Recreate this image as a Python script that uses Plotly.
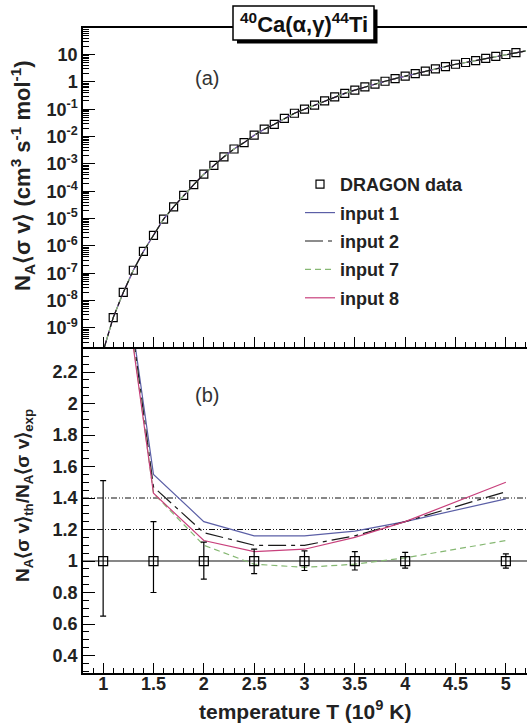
import plotly.graph_objects as go

# ---------------- data ----------------
# (a) DRAGON reaction rate (cm^3 s^-1 mol^-1) vs T9
T_rate = [1.1, 1.2, 1.3, 1.4, 1.5, 1.6, 1.7, 1.8, 1.9, 2.0,
          2.1, 2.2, 2.3, 2.4, 2.5, 2.6, 2.7, 2.8, 2.9, 3.0,
          3.1, 3.2, 3.3, 3.4, 3.5, 3.6, 3.7, 3.8, 3.9, 4.0,
          4.1, 4.2, 4.3, 4.4, 4.5, 4.6, 4.7, 4.8, 4.9, 5.0, 5.1]
rate_dragon = [2.4e-9, 2.0e-8, 1.29e-7, 6.3e-7, 2.45e-6, 9.5e-6, 2.7e-5, 7.1e-5, 1.74e-4, 4.2e-4,
               8.9e-4, 1.82e-3, 3.5e-3, 6.0e-3, 1.12e-2, 1.86e-2, 2.8e-2, 4.6e-2, 7.1e-2, 0.100,
               0.141, 0.200, 0.282, 0.380, 0.50, 0.65, 0.83, 1.05, 1.32, 1.62,
               2.0, 2.45, 3.0, 3.6, 4.4, 5.1, 6.0, 7.2, 8.5, 10.0, 11.7]

# (a) model curve (all inputs overlap on the log scale)
T_model = [0.9, 1.0, 1.1, 1.2, 1.3, 1.4, 1.5, 1.6, 1.7, 1.8, 1.9, 2.0,
           2.1, 2.2, 2.3, 2.4, 2.5, 2.6, 2.7, 2.8, 2.9, 3.0,
           3.1, 3.2, 3.3, 3.4, 3.5, 3.6, 3.7, 3.8, 3.9, 4.0,
           4.1, 4.2, 4.3, 4.4, 4.5, 4.6, 4.7, 4.8, 4.9, 5.0, 5.1, 5.2]
rate_model = [6.0e-12, 1.4e-10, 2.4e-9, 2.0e-8, 1.29e-7, 6.3e-7, 2.45e-6, 9.5e-6, 2.7e-5, 7.1e-5, 1.74e-4, 4.2e-4,
              8.9e-4, 1.82e-3, 3.5e-3, 6.0e-3, 1.12e-2, 1.86e-2, 2.8e-2, 4.6e-2, 7.1e-2, 0.100,
              0.141, 0.200, 0.282, 0.380, 0.50, 0.65, 0.83, 1.05, 1.32, 1.62,
              2.0, 2.45, 3.0, 3.6, 4.4, 5.1, 6.0, 7.2, 8.5, 10.0, 11.7, 13.5]

# (b) ratio theory / experiment
T_ratio = [1.0, 1.5, 2.0, 2.5, 3.0, 3.5, 4.0, 5.0]
ratio_exp = [1.0, 1.0, 1.0, 1.0, 1.0, 1.0, 1.0, 1.0]
err_up = [0.51, 0.25, 0.12, 0.076, 0.065, 0.06, 0.055, 0.045]
err_dn = [0.35, 0.20, 0.115, 0.08, 0.06, 0.057, 0.045, 0.045]

T_input = [1.0, 1.5, 2.0, 2.5, 3.0, 3.5, 4.0, 5.0]
ratio_input1 = [3.80, 1.55, 1.25, 1.16, 1.16, 1.19, 1.25, 1.395]
ratio_input2 = [3.85, 1.47, 1.18, 1.10, 1.10, 1.16, 1.25, 1.44]
ratio_input7 = [3.80, 1.43, 1.10, 0.98, 0.96, 0.98, 1.02, 1.13]
ratio_input8 = [3.75, 1.43, 1.13, 1.06, 1.075, 1.15, 1.25, 1.50]

ref_levels = [1.0, 1.2, 1.4]

input_names = ["input 1", "input 2", "input 7", "input 8"]
input_colors = ["#5b5fa6", "#1a1a1a", "#86b873", "#c8407c"]
input_dash = ["solid", "18px,5px,4px,5px", "6px,4px", "solid"]
ratios = [ratio_input1, ratio_input2, ratio_input7, ratio_input8]
top_draw_order = [3, 0, 2, 1]   # input 8, 1, 7, 2 (black on top, as in the reference)

FONT = "Liberation Sans, Arial, Helvetica, sans-serif"

W, H = 527, 728
ML, MR, MT, MB = 83, 0, 28, 55
PW, PH = W - ML - MR, H - MT - MB


def px(xp):
    return (xp - ML) / PW


def py(yp):
    return (H - MB - yp) / PH


fig = go.Figure()

# ---- top panel ----
fig.add_trace(go.Scatter(
    x=T_rate, y=rate_dragon, mode="markers", name="DRAGON data",
    marker=dict(symbol="square-open", size=8, color="black", line=dict(width=1.2)),
    xaxis="x2", yaxis="y2", legendgroup="g0", legendrank=1))
for i in top_draw_order:
    fig.add_trace(go.Scatter(
        x=T_model, y=rate_model, mode="lines", name=input_names[i],
        line=dict(color=input_colors[i], width=1.2, dash=input_dash[i]),
        xaxis="x2", yaxis="y2", legendgroup="g%d" % (i + 1), legendrank=i + 2))

# ---- bottom panel ----
for i in range(4):
    fig.add_trace(go.Scatter(
        x=T_input, y=ratios[i], mode="lines", name=input_names[i], showlegend=False,
        line=dict(color=input_colors[i], width=1.2, dash=input_dash[i]), xaxis="x", yaxis="y"))
fig.add_trace(go.Scatter(
    x=T_ratio, y=ratio_exp, mode="markers", showlegend=False,
    marker=dict(symbol="square-open", size=9, color="black", line=dict(width=1.2)),
    error_y=dict(type="data", array=err_up, arrayminus=err_dn, color="black",
                 thickness=1.2, width=3),
    xaxis="x", yaxis="y"))

for lv in ref_levels:
    fig.add_hline(y=lv, line=dict(color="#111", width=1.1,
                                   dash="solid" if lv == 1.0 else "6px,2px,1px,2px,1px,2px"),
                  xref="x", yref="y", layer="below")

split = 1 - 319 / 645

axis_common = dict(showline=True, linecolor="black", linewidth=1.5,
                   ticks="inside", tickcolor="black", showgrid=False, zeroline=False,
                   tickfont=dict(family=FONT, size=18, color="#222", weight="bold"))

fig.update_layout(
    width=W, height=H,
    margin=dict(l=ML, r=MR, t=MT, b=MB),
    paper_bgcolor="white", plot_bgcolor="white",
    showlegend=True,
    legend=dict(x=px(300), y=py(166), xanchor="left", yanchor="top",
                font=dict(family=FONT, size=18, color="#222", weight="bold"),
                bgcolor="rgba(0,0,0,0)", traceorder="grouped", tracegroupgap=2,
                itemwidth=30),
    xaxis=dict(domain=[0, 1], range=[0.8, 5.21], anchor="y",
               tickvals=[1, 1.5, 2, 2.5, 3, 3.5, 4, 4.5, 5],
               ticktext=["1", "1.5", "2", "2.5", "3", "3.5", "4", "4.5", "5"],
               ticklabelstandoff=-6,
               ticklen=10, minor=dict(ticks="inside", dtick=0.1, tick0=0, ticklen=5, tickcolor="black"),
               **axis_common),
    yaxis=dict(domain=[0, split], range=[0.289, 2.359], anchor="x",
               tickvals=[0.4, 0.6, 0.8, 1.0, 1.2, 1.4, 1.6, 1.8, 2.0, 2.2],
               ticktext=["0.4", "0.6", "0.8", "1", "1.2", "1.4", "1.6", "1.8", "2", "2.2"],
               ticklen=12, minor=dict(ticks="inside", dtick=0.05, tick0=0, ticklen=6, tickcolor="black"),
               **axis_common),
    xaxis2=dict(domain=[0, 1], range=[0.8, 5.21], anchor="y2", matches="x",
                showticklabels=False, mirror=True,
                tickvals=[1, 1.5, 2, 2.5, 3, 3.5, 4, 4.5, 5],
                ticklen=10, minor=dict(ticks="inside", dtick=0.1, tick0=0, ticklen=5, tickcolor="black"),
                **axis_common),
    yaxis2=dict(domain=[split, 1], type="log", range=[-9.695, 1.969], anchor="x2",
                tickvals=[1e-9, 1e-8, 1e-7, 1e-6, 1e-5, 1e-4, 1e-3, 1e-2, 1e-1, 1, 10],
                ticktext=["10<sup>-9</sup>", "10<sup>-8</sup>", "10<sup>-7</sup>", "10<sup>-6</sup>",
                          "10<sup>-5</sup>", "10<sup>-4</sup>", "10<sup>-3</sup>", "10<sup>-2</sup>",
                          "10<sup>-1</sup>", "1", "10"],
                ticklen=12, minor=dict(ticks="inside", dtick="D1", ticklen=6, tickcolor="black"),
                **axis_common),
)

# title box with drop shadow (decoration)
fig.add_shape(type="rect", xref="paper", yref="paper", layer="above",
              x0=px(237), x1=px(377.5), y0=py(43.5), y1=py(9.5),
              fillcolor="black", line=dict(width=0))
fig.add_shape(type="rect", xref="paper", yref="paper", layer="above",
              x0=px(233), x1=px(374), y0=py(40), y1=py(6),
              fillcolor="white", line=dict(color="black", width=1.5))
fig.add_annotation(x=px(304), y=py(23), xref="paper", yref="paper",
                   text="<sup>40</sup>Ca(α,γ)<sup>44</sup>Ti", showarrow=False,
                   font=dict(family=FONT, size=22, color="#111", weight="bold"),
                   xanchor="center", yanchor="middle")

# panel labels
fig.add_annotation(x=px(193), y=py(65), xref="paper", yref="paper",
                   text="(a)", showarrow=False, font=dict(family=FONT, size=20, color="#333"))
fig.add_annotation(x=px(193), y=py(395), xref="paper", yref="paper",
                   text="(b)", showarrow=False, font=dict(family=FONT, size=20, color="#333"))

# axis titles
fig.add_annotation(x=px(22), y=py(176), xref="paper", yref="paper",
                   xanchor="center", yanchor="middle", textangle=-90,
                   text="N<sub>A</sub>⟨σ v⟩ (cm<sup>3</sup> s<sup>-1</sup> mol<sup>-1</sup>)",
                   showarrow=False, font=dict(family=FONT, size=22, color="#222", weight="bold"))
fig.add_annotation(x=px(24), y=py(496), xref="paper", yref="paper",
                   xanchor="center", yanchor="middle", textangle=-90,
                   text="N<sub>A</sub>⟨σ v⟩<sub>th</sub>/N<sub>A</sub>⟨σ v⟩<sub>exp</sub>",
                   showarrow=False, font=dict(family=FONT, size=19, color="#222", weight="bold"))
fig.add_annotation(x=px(305), y=py(710), xref="paper", yref="paper",
                   xanchor="center", yanchor="middle",
                   text="temperature T (10<sup>9</sup> K)", showarrow=False,
                   font=dict(family=FONT, size=21, color="#222", weight="bold"))

fig.write_html("out.html")
